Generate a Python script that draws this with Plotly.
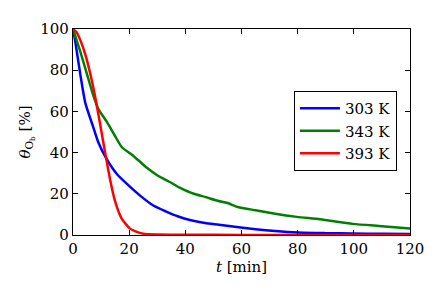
import plotly.graph_objects as go

t_303 = [0, 0.8, 2.6, 4.4, 7.3, 9, 11.5, 14, 16, 19.2, 24, 28.6, 33, 37.5, 42, 47, 52, 59, 65, 72, 80, 90, 100, 110, 120]
th_303 = [100, 94, 78, 64, 52, 45, 38, 32.5, 29, 24.8, 19, 14.3, 11.5, 9, 7.2, 5.8, 5, 3.8, 2.8, 1.9, 1.2, 0.9, 0.7, 0.6, 0.5]

t_343 = [0, 2.6, 5, 7.3, 9.1, 12, 15, 17.4, 21, 26.3, 30, 34.6, 38, 43, 47, 51.5, 55, 58.7, 65, 72, 79.7, 88, 99.6, 110, 120]
th_343 = [100, 89, 78, 67.4, 61, 55, 48, 42.6, 39, 32.6, 29, 25.6, 23, 20, 18.5, 16.6, 15.5, 13.6, 12, 10.3, 8.8, 7.6, 5.4, 4.3, 3.2]

t_393 = [0, 1.2, 2.6, 4.4, 6.2, 7.9, 9.7, 11.5, 13.2, 15, 17.4, 20.3, 22.5, 25, 30, 40, 60, 80, 100, 120]
th_393 = [100, 98.5, 94.6, 87.6, 78, 67, 53.5, 39.5, 27, 16.3, 7.8, 3.1, 1.6, 0.6, 0.2, 0.1, 0.05, 0.03, 0.02, 0.02]

labels = ["303 K", "343 K", "393 K"]
colors = ["#0000ff", "#008000", "#ff0000"]

x_ticks = [0, 20, 40, 60, 80, 100, 120]
y_ticks = [0, 20, 40, 60, 80, 100]

FONT = "DejaVu Serif"

fig = go.Figure()
for tx, ty, lab, col in zip([t_303, t_343, t_393], [th_303, th_343, th_393], labels, colors):
    fig.add_trace(go.Scatter(x=tx, y=ty, mode="lines", name=lab,
                             line=dict(color=col, width=2.5, shape="spline", smoothing=0.6)))

axis_common = dict(showline=True, linecolor="black", linewidth=1.2, mirror="allticks",
                   ticks="inside", ticklen=5, tickwidth=1, tickcolor="black",
                   showgrid=False, zeroline=False,
                   tickfont=dict(family=FONT, size=15, color="black"))

fig.update_layout(
    width=428, height=285,
    margin=dict(l=65, r=25, t=12, b=58),
    paper_bgcolor="white", plot_bgcolor="white",
    font=dict(family=FONT, size=15, color="black"),
    xaxis=dict(range=[0, 120], tickvals=x_ticks,
               title=dict(text="<i>t</i> [min]", standoff=4, font=dict(family=FONT, size=15)),
               **axis_common),
    yaxis=dict(range=[0, 100], tickvals=y_ticks,
               title=dict(text="<i>θ</i><sub>O<sub>b</sub></sub> [%]", standoff=6, font=dict(family=FONT, size=15)),
               **axis_common),
    legend=dict(x=0.655, y=0.70, xanchor="left", yanchor="top",
                bordercolor="black", borderwidth=1.2, bgcolor="white",
                font=dict(family=FONT, size=15), itemwidth=40,
                tracegroupgap=4),
    showlegend=True,
)

fig.write_html("out.html")
